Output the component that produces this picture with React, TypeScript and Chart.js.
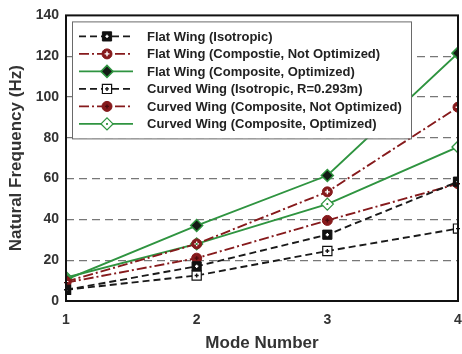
import React, { useEffect, useRef } from "react";
import { Chart, registerables } from "chart.js";
Chart.register(...registerables);

const modes = [1, 2, 3, 4];
const flatIso = [5.5, 17, 32.5, 58.5];
const flatCompNotOpt = [9.5, 28, 53.5, 95];
const flatCompOpt = [10.5, 37, 61.5, 121.5];
const curvedIso = [5.5, 12.5, 24.5, 35.5];
const curvedCompNotOpt = [9, 21, 39.5, 57.5];
const curvedCompOpt = [11.5, 28, 47.5, 75.5];
const seriesLabels = [
  "Flat Wing (Isotropic)",
  "Flat Wing (Compostie, Not Optimized)",
  "Flat Wing (Composite, Optimized)",
  "Curved Wing (Isotropic, R=0.293m)",
  "Curved Wing (Composite, Not Optimized)",
  "Curved Wing (Composite, Optimized)",
];
const xTitle = "Mode Number";
const yTitle = "Natural Frequency (Hz)";

const BLACK = "#1a1a1a";
const RED = "#861a1c";
const GREEN = "#2f9440";
const FONT = "'Liberation Sans', Arial, sans-serif";

function drawMarker(ctx: CanvasRenderingContext2D, ds: any, x: number, y: number) {
  const r = ds.pointRadius;
  ctx.save();
  ctx.setLineDash([]);
  ctx.fillStyle = ds.pointBackgroundColor;
  ctx.strokeStyle = ds.pointBorderColor;
  ctx.lineWidth = ds.pointBorderWidth;
  ctx.beginPath();
  if (ds.pointStyle === "rect") {
    const s = Math.SQRT1_2 * r;
    ctx.rect(x - s, y - s, 2 * s, 2 * s);
  } else if (ds.pointStyle === "rectRot") {
    ctx.moveTo(x - r, y);
    ctx.lineTo(x, y - r);
    ctx.lineTo(x + r, y);
    ctx.lineTo(x, y + r);
    ctx.closePath();
  } else {
    ctx.arc(x, y, r, 0, Math.PI * 2);
  }
  ctx.fill();
  ctx.stroke();
  ctx.restore();
  drawInner(ctx, ds, x, y);
}

function drawInner(ctx: CanvasRenderingContext2D, ds: any, x: number, y: number) {
  if (!ds.innerColor) return;
  const s = ds.innerSize || 2.2;
  ctx.save();
  ctx.setLineDash([]);
  ctx.strokeStyle = ds.innerColor;
  ctx.lineWidth = 1.4;
  ctx.beginPath();
  ctx.moveTo(x - s, y);
  ctx.lineTo(x + s, y);
  ctx.moveTo(x, y - s);
  ctx.lineTo(x, y + s);
  ctx.stroke();
  ctx.restore();
}

const innerPlugin = {
  id: "innerMarks",
  afterDatasetsDraw(chart: any) {
    const ctx = chart.ctx;
    chart.data.datasets.forEach((ds: any, i: number) => {
      const meta = chart.getDatasetMeta(i);
      meta.data.forEach((pt: any) => drawInner(ctx, ds, pt.x, pt.y));
    });
  },
};

const legendPlugin = {
  id: "boxLegend",
  afterDatasetsDraw(chart: any) {
    const ctx = chart.ctx;
    const a = chart.chartArea;
    const x0 = a.left + 6;
    const y0 = a.top + 6;
    const w = 339;
    const h = 117;
    ctx.save();
    ctx.fillStyle = "#ffffff";
    ctx.fillRect(x0, y0, w, h);
    ctx.strokeStyle = "#6a6a6a";
    ctx.lineWidth = 1;
    ctx.strokeRect(x0 + 0.5, y0 + 0.5, w, h);
    chart.data.datasets.forEach((ds: any, i: number) => {
      const cy = y0 + 15 + i * 17.5;
      ctx.strokeStyle = ds.borderColor;
      ctx.lineWidth = ds.borderWidth;
      ctx.setLineDash(ds.borderDash || []);
      ctx.beginPath();
      ctx.moveTo(x0 + 7, cy);
      ctx.lineTo(x0 + 61, cy);
      ctx.stroke();
      ctx.setLineDash([]);
      drawMarker(ctx, ds, x0 + 35, cy);
      ctx.fillStyle = "#222222";
      ctx.font = `bold 13px ${FONT}`;
      ctx.textBaseline = "middle";
      ctx.textAlign = "left";
      ctx.fillText(ds.label, x0 + 75, cy + 1);
    });
    ctx.restore();
  },
};

const framePlugin = {
  id: "frame",
  afterDraw(chart: any) {
    const ctx = chart.ctx;
    const a = chart.chartArea;
    ctx.save();
    ctx.strokeStyle = "#111111";
    ctx.lineWidth = 2;
    ctx.strokeRect(a.left, a.top, a.right - a.left, a.bottom - a.top);
    ctx.restore();
  },
};

export default function App() {
  const ref = useRef<HTMLCanvasElement>(null);
  useEffect(() => {
    document.body.style.margin = "0";
    const mk = (vals: number[]) => vals.map((v, i) => ({ x: modes[i], y: v }));
    const dashed = [7, 4];
    const dashDot = [10, 3, 2, 3];
    const datasets: any[] = [
      {
        label: seriesLabels[0], data: mk(flatIso), borderColor: BLACK, borderWidth: 1.9, borderDash: dashed,
        pointStyle: "rect", pointRadius: 6.5, pointBackgroundColor: "#111", pointBorderColor: "#111", pointBorderWidth: 1,
        innerColor: "#ffffff", innerSize: 1.6,
      },
      {
        label: seriesLabels[1], data: mk(flatCompNotOpt), borderColor: RED, borderWidth: 1.9, borderDash: dashDot,
        pointStyle: "circle", pointRadius: 5, pointBackgroundColor: RED, pointBorderColor: RED, pointBorderWidth: 1,
        innerColor: "#ffffff", innerSize: 2.4,
      },
      {
        label: seriesLabels[2], data: mk(flatCompOpt), borderColor: GREEN, borderWidth: 1.9, borderDash: [],
        pointStyle: "rectRot", pointRadius: 6, pointBackgroundColor: "#141a15", pointBorderColor: GREEN, pointBorderWidth: 1.5,
      },
      {
        label: seriesLabels[3], data: mk(curvedIso), borderColor: BLACK, borderWidth: 1.9, borderDash: dashed,
        pointStyle: "rect", pointRadius: 6.5, pointBackgroundColor: "#ffffff", pointBorderColor: "#111", pointBorderWidth: 1.2,
        innerColor: "#111111", innerSize: 2,
      },
      {
        label: seriesLabels[4], data: mk(curvedCompNotOpt), borderColor: RED, borderWidth: 1.9, borderDash: dashDot,
        pointStyle: "circle", pointRadius: 5, pointBackgroundColor: RED, pointBorderColor: RED, pointBorderWidth: 1,
        innerColor: "#4a0a0c", innerSize: 2,
      },
      {
        label: seriesLabels[5], data: mk(curvedCompOpt), borderColor: GREEN, borderWidth: 1.9, borderDash: [],
        pointStyle: "rectRot", pointRadius: 6, pointBackgroundColor: "#ffffff", pointBorderColor: GREEN, pointBorderWidth: 1.3,
        innerColor: GREEN, innerSize: 1,
      },
    ];
    const chart = new Chart(ref.current!, {
      type: "line",
      data: { datasets },
      plugins: [innerPlugin, legendPlugin, framePlugin],
      options: {
        animation: false,
        responsive: false,
        layout: { autoPadding: false, padding: { top: 14, right: 0, left: 0, bottom: 0 } },
        plugins: { legend: { display: false }, tooltip: { enabled: false } },
        elements: { line: { tension: 0 } },
        scales: {
          x: {
            type: "linear", min: 1, max: 4,
            grid: { display: false, drawTicks: false },
            border: { display: false },
            ticks: { stepSize: 1, color: "#333", font: { family: FONT, size: 14, weight: "bold" }, padding: 11 },
            title: { display: true, text: xTitle, color: "#333", font: { family: FONT, size: 17, weight: "bold" }, padding: { top: 4, bottom: 0 } },
            afterFit: (s: any) => { s.height = 53; s.paddingLeft = 0; s.paddingRight = 4; },
          },
          y: {
            min: 0, max: 140,
            grid: {
              drawTicks: false,
              lineWidth: 1.2,
              color: (c: any) => (c.tick && (c.tick.value === 0 || c.tick.value === 140) ? "rgba(0,0,0,0)" : "#777777"),
            },
            border: { display: false, dash: [8, 5] },
            ticks: { stepSize: 20, color: "#333", font: { family: FONT, size: 14, weight: "bold" }, padding: 7 },
            title: { display: true, text: yTitle, color: "#333", font: { family: FONT, size: 17, weight: "bold" }, padding: { top: 6, bottom: 6 } },
            afterFit: (s: any) => { s.width = 66; },
          },
        },
      } as any,
    });
    return () => chart.destroy();
  }, []);
  return (
    <div style={{ position: "fixed", left: 0, top: 0, width: 462, height: 354, background: "#fff" }}>
      <canvas ref={ref} width={462} height={354} style={{ width: 462, height: 354 }} />
    </div>
  );
}
